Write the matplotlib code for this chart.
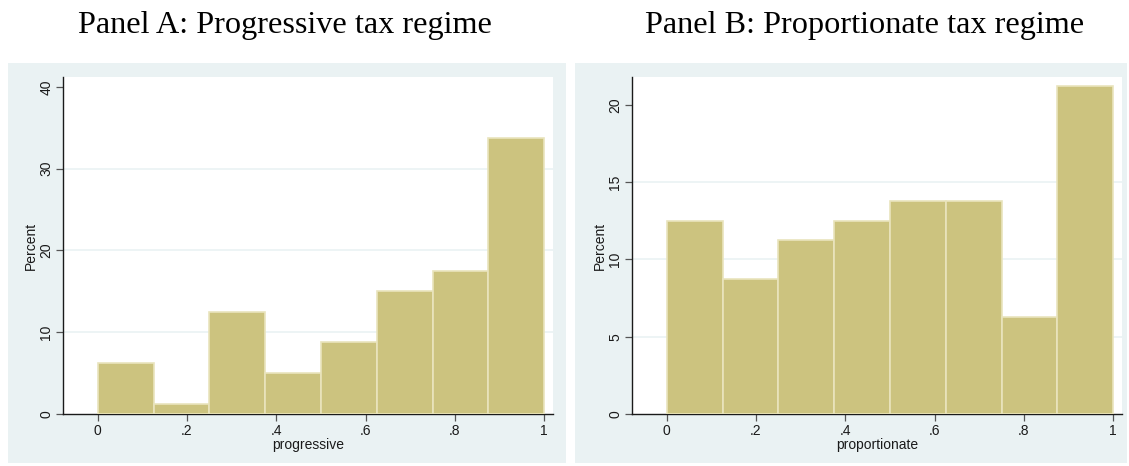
import numpy as np
import matplotlib
matplotlib.use('Agg')
import matplotlib.pyplot as plt

# bin edges (8 bins of width .125) and percentages
edges = np.linspace(0, 1, 9)
prog_pct = [6.25, 1.25, 12.5, 5.0, 8.75, 15.0, 17.5, 33.75]
prop_pct = [12.5, 8.75, 11.25, 12.5, 13.75, 13.75, 6.25, 21.25]

titles = ['Panel A: Progressive tax regime', 'Panel B: Proportionate tax regime']
xlabels = ['progressive', 'proportionate']
xticks = [0, .2, .4, .6, .8, 1]
xticklabels = ['0', '.2', '.4', '.6', '.8', '1']
yticks_a = [0, 10, 20, 30, 40]
yticks_b = [0, 5, 10, 15, 20]

W, H = 1129, 466
bg = '#eaf2f3'
barcol = '#ccc37f'
edgecol = '#e9e4bd'

fig = plt.figure(figsize=(W / 100, H / 100), dpi=100)
fig.patch.set_facecolor('white')

def px(l, t, r, b):
    return [l / W, (H - b) / H, (r - l) / W, (b - t) / H]

# panel backgrounds
for l, r in [(8, 566), (575, 1127)]:
    bax = fig.add_axes(px(l, 63, r, 463))
    bax.set_facecolor(bg)
    bax.set_xticks([])
    bax.set_yticks([])
    for s in bax.spines.values():
        s.set_visible(False)

axA = fig.add_axes(px(63, 77, 553, 414))
axB = fig.add_axes(px(632, 77, 1122, 414))

for ax, pct, yt, lab, ttl, ylim, cx in [
        (axA, prog_pct, yticks_a, xlabels[0], titles[0], (0, 41.2), 285),
        (axB, prop_pct, yticks_b, xlabels[1], titles[1], (0, 21.8), 865)]:
    ax.set_facecolor('white')
    ax.bar(edges[:-1], pct, width=0.125, align='edge', color=barcol,
           edgecolor=edgecol, linewidth=1.2, zorder=3)
    ax.set_xlim(-0.078, 1.02)
    ax.set_ylim(*ylim)
    for g in yt[1:]:
        if g < ylim[1] - 2:
            ax.axhline(g, color=bg, linewidth=1.2, zorder=1)
    ax.set_xticks(xticks)
    ax.set_xticklabels(xticklabels)
    ax.set_yticks(yt)
    ax.set_yticklabels([str(v) for v in yt], rotation=90, va='center')
    ax.tick_params(direction='out', length=5, width=0.9, color='#555555',
                   labelcolor='#1a1a1a', labelsize=10, pad=2)
    for s in ['top', 'right']:
        ax.spines[s].set_visible(False)
    for s in ['left', 'bottom']:
        ax.spines[s].set_color('#1a1a1a')
        ax.spines[s].set_linewidth(1.0)
    ax.set_xlabel(lab, fontsize=10, labelpad=0, family='Liberation Sans',
                  color='#1a1a1a')
    ax.set_ylabel('Percent', fontsize=10, labelpad=1, family='Liberation Sans',
                  color='#1a1a1a')
    for t in ax.get_xticklabels() + ax.get_yticklabels():
        t.set_family('Liberation Sans')
    fig.text(cx / W, (H - 33) / H, ttl, ha='center', va='baseline',
             fontsize=23.2, family='Liberation Serif')

fig.savefig('out.png', dpi=100)
